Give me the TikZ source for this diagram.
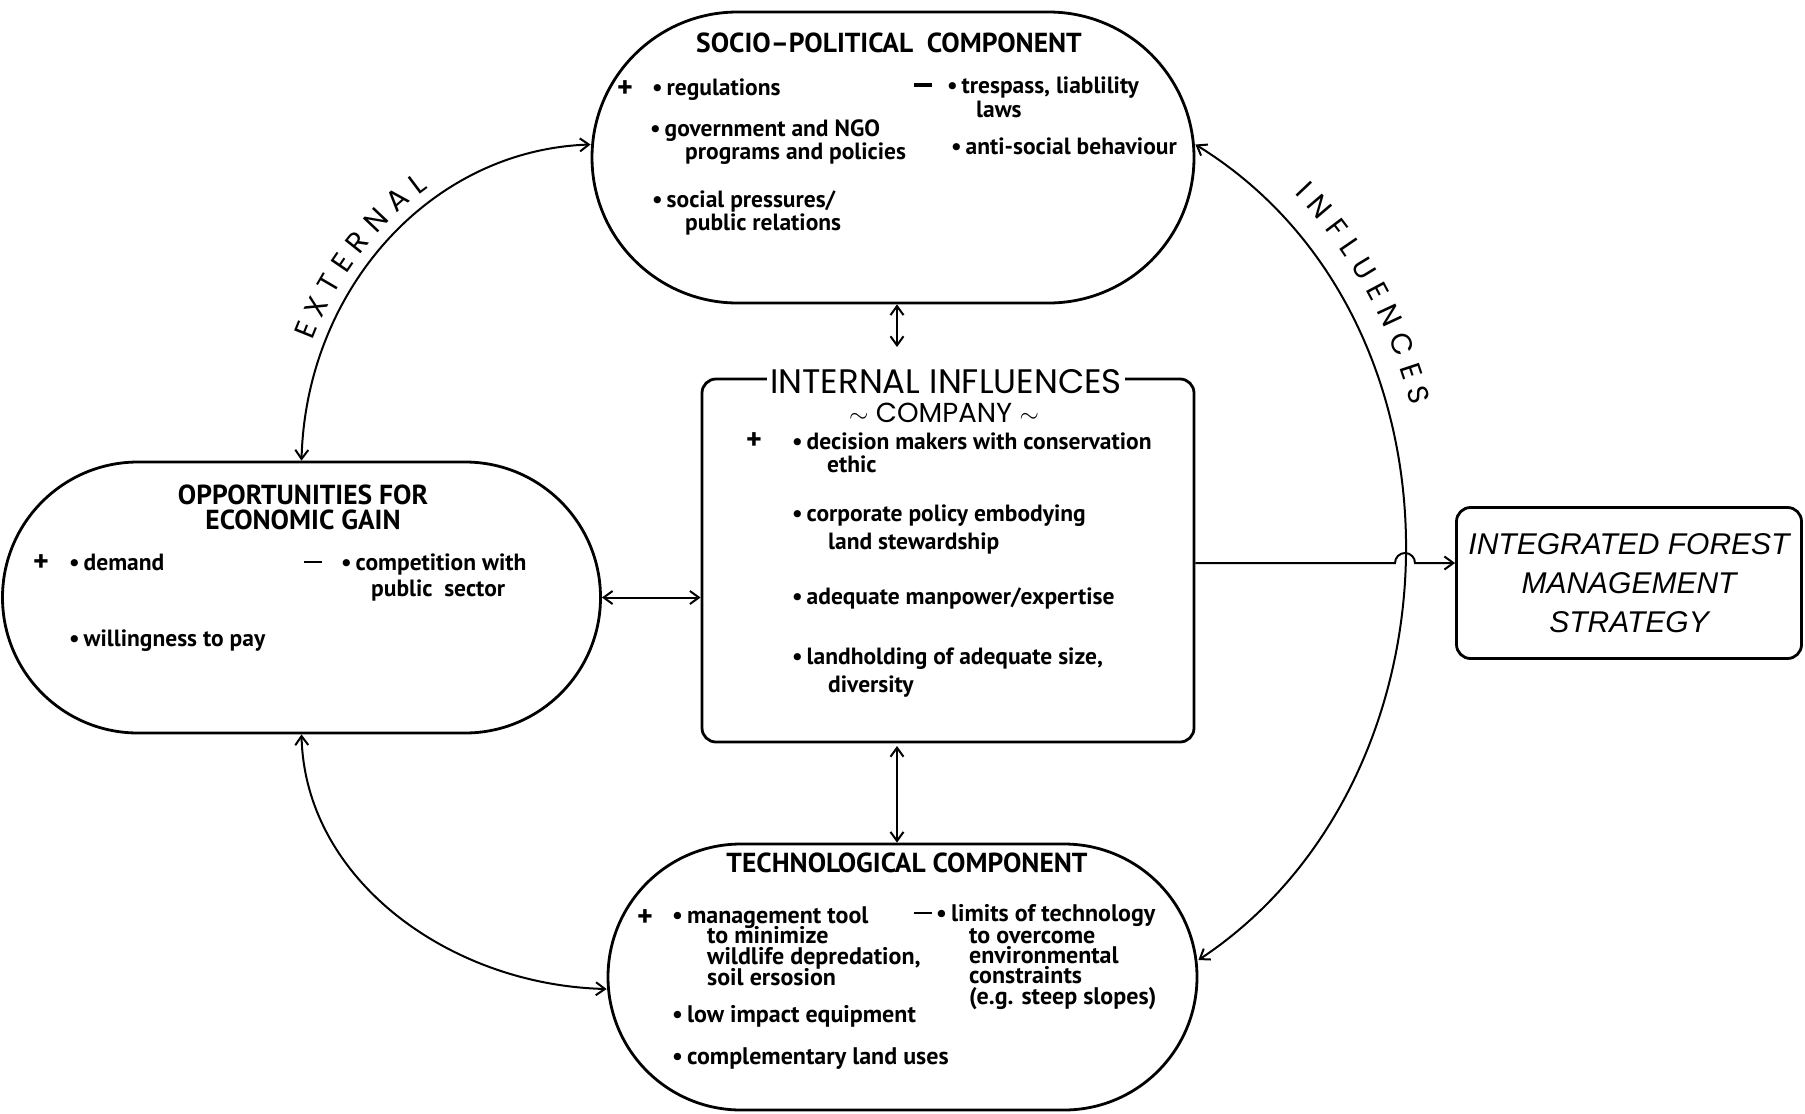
\documentclass[tikz,border=0pt]{standalone}
\usepackage{fontspec}
\setmainfont{PT Sans}
\newfontfamily\geofont{Poppins}
\newfontfamily\ifmsfont{Liberation Sans}
\usetikzlibrary{shapes.misc,arrows.meta,decorations.text}
\newcommand\mytl[4]{\node[txt,anchor=base west] (#1) at (#2,#3) {#4};}
\newcommand\mytt[4]{\node[ttxt,anchor=base west] (#1) at (#2,#3) {#4};}
\tikzset{
  stadium/.style={rounded rectangle, draw, line width=2.8pt, inner sep=0pt},
  rbox/.style={draw, rounded corners=14pt, line width=2.8pt, inner sep=0pt},
  txt/.style={inner sep=0pt, font=\fontsize{23.5}{25}\selectfont\bfseries},
  ttxt/.style={inner sep=0pt, font=\fontsize{24}{24}\selectfont\bfseries},
  ttl/.style={inner sep=0pt, font=\fontsize{27.5}{25}\selectfont\bfseries, align=center},
  plussign/.style={inner sep=0pt, font=\fontsize{30}{30}\selectfont\bfseries, text height=16pt, text depth=0pt},
  minussign/.style={inner sep=0pt},
  conn/.style={line width=2pt},
  tipb/.tip={Straight Barb[length=9pt,width=13pt,line width=2pt]},
  dbl/.style={conn, tipb-tipb},
  arr/.style={conn, -tipb},
}
\begin{document}
\begin{tikzpicture}[x=1pt,y=-1pt]
\useasboundingbox (0,0) rectangle (1805,1114);
% main shapes
\node[stadium, minimum width=602pt, minimum height=291pt] (socio) at (893,157.5) {};
\node[stadium, minimum width=598pt, minimum height=271pt] (opp) at (301.5,597.5) {};
\node[stadium, minimum width=589pt, minimum height=266pt] (tech) at (902.5,977) {};
\node[rbox, minimum width=492pt, minimum height=363pt] (internal) at (948,560.5) {};
\node[rbox, minimum width=345pt, minimum height=151pt, align=center,
      font=\ifmsfont\itshape\fontsize{30}{39}\selectfont] (ifms) at (1629,583)
      {INTEGRATED FOREST\\MANAGEMENT\\STRATEGY};

% socio-political text
\node[ttl] (soctitle) at (889,43) {SOCIO--POLITICAL\enspace COMPONENT};
\node[plussign] (spplus) at (625,89) {+};
\mytl{s1}{652}{95}{•\,regulations}
\mytl{s2}{650}{136}{•\,government and NGO}
\mytl{s3}{685}{159}{programs and policies}
\mytl{s4}{652}{207}{•\,social pressures/}
\mytl{s5}{685}{230}{public relations}
\node[minussign] (spminus) at (923,85) {\rule{18pt}{4pt}};
\mytl{s6}{947}{93}{•\,trespass, liablility}
\mytl{s7}{976}{117}{laws}
\mytl{s8}{951}{154}{•\,anti-social behaviour}

% opportunities text
\node[ttl] (opptitle) at (303,507) {OPPORTUNITIES FOR\\ECONOMIC GAIN};
\node[plussign] (opplus) at (41,563) {+};
\mytl{o1}{69}{570}{•\,demand}
\node[minussign] (opminus) at (313,562) {\rule{18pt}{2.8pt}};
\mytl{o2}{341}{570}{•\,competition with}
\mytl{o3}{371}{596}{public\enspace sector}
\mytl{o4}{69}{646}{•\,willingness to pay}

% internal text
\node[fill=white, inner xsep=3pt, inner ysep=0pt, text height=24pt, text depth=0pt,
      font=\geofont\fontsize{34}{34}\selectfont] (inttitle) at (946,381) {INTERNAL INFLUENCES};
\node[inner sep=0pt, text height=19pt, text depth=0pt,
      font=\geofont\fontsize{27.5}{27.5}\selectfont] (intcomp) at (944,413) {$\sim$ COMPANY $\sim$};
\node[plussign] (inplus) at (754,441) {+};
\mytl{i1}{792}{449}{•\,decision makers with conservation}
\mytl{i2}{827}{472}{ethic}
\mytl{i3}{792}{521}{•\,corporate policy embodying}
\mytl{i4}{828}{549}{land stewardship}
\mytl{i5}{792}{604}{•\,adequate manpower/expertise}
\mytl{i6}{792}{664}{•\,landholding of adequate size,}
\mytl{i7}{828}{692}{diversity}

% technological text
\node[ttl] (techtitle) at (907,863) {TECHNOLOGICAL COMPONENT};
\node[plussign] (teplus) at (645,918) {+};
\mytt{t1}{672}{923}{•\,management tool}
\mytt{t2}{707}{943}{to minimize}
\mytt{t3}{707}{964}{wildlife depredation,}
\mytt{t4}{707}{985}{soil ersosion}
\node[minussign] (teminus) at (923,913) {\rule{18pt}{2.8pt}};
\mytt{t5}{936}{921}{•\,limits of technology}
\mytt{t6}{969}{943}{to overcome}
\mytt{t7}{969}{963}{environmental}
\mytt{t8}{969}{983}{constraints}
\mytt{t9}{969}{1004}{(e.g. steep slopes)}
\mytt{t10}{672}{1022}{•\,low impact equipment}
\mytt{t11}{672}{1064}{•\,complementary land uses}

% connectors
\coordinate (sockend) at (897,347);
\coordinate (techend) at (897,746);
\coordinate (hop) at (1395,563);
\draw[dbl] (sockend |- socio.south) -- (sockend);
\draw[dbl] (techend) -- (techend |- tech.north);
\draw[dbl] (opp.east) -- (opp.east -| internal.west);
\draw[arr] (internal.east |- hop) -- (hop) arc[start angle=180, end angle=0, radius=10pt] -- (hop -| ifms.west);

\draw[dbl] ([yshift=13pt]socio.west) .. controls (430,150) and (306,290) .. (opp.north);
\draw[dbl] (opp.south) .. controls (305,880) and (450,985) .. ([yshift=-12pt]tech.west);
\draw[dbl] ([yshift=13pt]socio.east) .. controls (1480,320) and (1470,780) .. ([yshift=17pt]tech.east);

% arc labels
\path[decorate, decoration={text along path, text align={left indent=118pt}, raise=12pt,
  text={|\geofont\fontsize{29}{29}\selectfont|E X T E R N A L}}]
  (opp.north) .. controls (306,290) and (430,150) .. ([yshift=13pt]socio.west);
\path[decorate, decoration={text along path, text align={left indent=105pt}, raise=24pt,
  text={|\geofont\fontsize{29}{29}\selectfont|I N F L U E N C E S}}]
  ([yshift=13pt]socio.east) .. controls (1480,320) and (1470,780) .. ([yshift=17pt]tech.east);
\end{tikzpicture}
\end{document}
